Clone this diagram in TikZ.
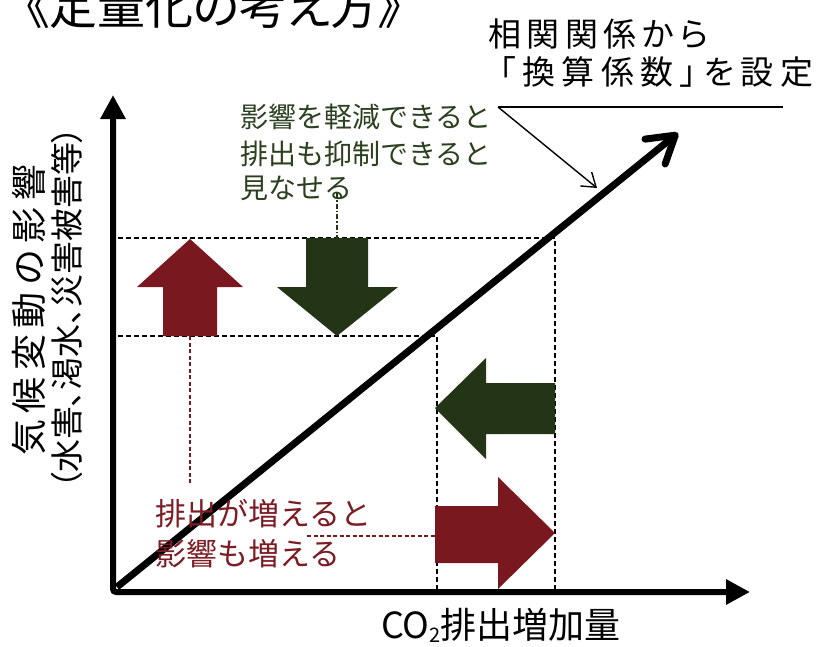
\documentclass[tikz,border=0pt]{standalone}
\usepackage{fontspec}
\setmainfont{Noto Sans CJK JP}
\newfontfamily\jpp{Noto Sans CJK JP}[RawFeature=+palt]
\usetikzlibrary{arrows.meta}
\definecolor{dred}{RGB}{122,24,31}
\definecolor{dgreen}{RGB}{35,52,23}
\definecolor{tgreen}{RGB}{42,64,30}
\definecolor{tred}{RGB}{124,28,36}
\begin{document}
\begin{tikzpicture}[x=1pt,y=-1pt,
  txt/.style={inner sep=0pt, outer sep=0pt},
  guide/.style={draw=black, line width=1.3pt, dash pattern=on 5pt off 3pt},
  redguide/.style={draw=dred, line width=1.2pt, dash pattern=on 4pt off 2.5pt},
  greenguide/.style={draw=dgreen, line width=1.3pt, dash pattern=on 5pt off 2pt on 1.5pt off 2pt},
  axisline/.style={line width=6pt, rounded corners=3pt,
    {Triangle[length=24pt,width=24pt]}-{Triangle[length=24pt,width=24pt]}},
  mainline/.style={line width=7pt, -{Straight Barb[length=26pt,width=32pt,round]}},
  leader/.style={line width=1.4pt, -{Straight Barb[length=13pt,width=18pt]}},
  blockred/.style={fill=dred},
  blockgreen/.style={fill=dgreen},
]
\useasboundingbox (0,0) rectangle (830,646);
\fill[white] (0,0) rectangle (830,646);

% key coordinates
\coordinate (O) at (113,592);
\coordinate (Ytop) at (113,95);
\coordinate (Xend) at (750,592);
\coordinate (D0) at (117,587);
\coordinate (D1) at (678,133);
\coordinate (H1a) at (118,238);
\coordinate (H1b) at (555,238);
\coordinate (H2a) at (118,336);
\coordinate (H2b) at (437,336);
\coordinate (V1b) at (555,590);
\coordinate (V2b) at (437,590);

% guide lines
\draw[guide] (H1a) -- (H1b) -- (V1b);
\draw[guide] (H2a) -- (H2b) -- (V2b);

% block arrows
\fill[blockred] (163,336) -- (163,287) -- (137,287) -- (190,239) -- (243,287) -- (217,287) -- (217,336) -- cycle;
\fill[blockgreen] (306,238) -- (368,238) -- (368,287) -- (398,287) -- (337,336) -- (277,287) -- (306,287) -- cycle;
\fill[blockgreen] (555,383) -- (486,383) -- (486,358) -- (435,408) -- (486,459) -- (486,434) -- (555,434) -- cycle;
\fill[blockred] (435,506) -- (498,506) -- (498,477) -- (555,533) -- (498,589) -- (498,563) -- (435,563) -- cycle;
\coordinate (upB) at (190,336);
\coordinate (downT) at (337,238);
\coordinate (rightL) at (435,536);

% axes
\draw[axisline] (Ytop) -- (O) -- (Xend);

% main diagonal
\draw[mainline] (D0) -- (D1);

% title
\node[txt, anchor=base, font=\jpp\fontsize{48}{48}\selectfont] (title) at (214,24.5) {《定量化の考え方》};

% top-right annotation
\node[txt, anchor=base west, font=\jpp\fontsize{33}{33}\selectfont\addfontfeatures{LetterSpace=17}] (corrA) at (488,46.5) {相関関係から};
\node[txt, anchor=base west, font=\jpp\fontsize{33}{33}\selectfont\addfontfeatures{LetterSpace=20}] (corrB) at (499,84.5) {「換算係数」を設定};
\coordinate (L0) at (498,107);
\coordinate (L1) at (783,107);
\coordinate (Ltip) at (597,188);
\draw[line width=1.4pt] (L1) -- (L0);
\draw[leader] (L0) -- (Ltip);

% green annotation
\node[txt, anchor=base west, text=tgreen, font=\fontsize{28}{28}\selectfont] (g1) at (240,127) {影響を軽減できると};
\node[txt, anchor=base west, text=tgreen, font=\fontsize{28}{28}\selectfont] (g2) at (240,164.5) {排出も抑制できると};
\node[txt, anchor=base west, text=tgreen, font=\fontsize{28}{28}\selectfont] (g3) at (240,198) {見なせる};
\coordinate (gEnd) at (337,193);
\draw[greenguide] (gEnd) -- (downT);

% red annotation
\node[txt, anchor=base west, text=tred, font=\fontsize{31}{31}\selectfont] (r1) at (155,525) {排出が増えると};
\node[txt, anchor=base west, text=tred, font=\fontsize{31}{31}\selectfont] (r2) at (155,565) {影響も増える};
\coordinate (rTop) at (190,485);
\coordinate (rSide) at (307,536);
\draw[redguide] (upB) -- (rTop);
\draw[redguide] (rSide) -- (rightL);

% axis labels
\node[txt, rotate=90, font=\fontsize{36}{36}\selectfont\addfontfeatures{LetterSpace=18}] (ylab1) at (29,310) {気候変動の影響};
\node[txt, rotate=90, font=\jpp\fontsize{33}{33}\selectfont] (ylab2) at (67,308) {（水害、渇水、災害被害等）};
\node[txt, anchor=base west, font=\fontsize{36}{36}\selectfont] (xlab) at (381,638) {CO\raisebox{-0.25ex}{\fontsize{20}{20}\selectfont 2}排出増加量};
\end{tikzpicture}
\end{document}
